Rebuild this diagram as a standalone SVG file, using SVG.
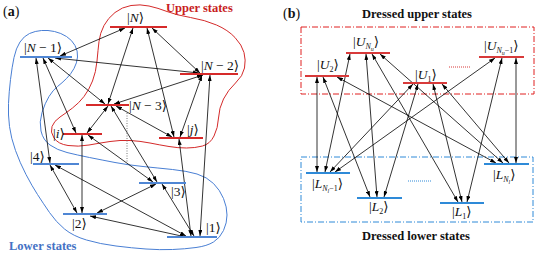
<svg xmlns="http://www.w3.org/2000/svg" width="539" height="254" viewBox="0 0 539 254">
<defs>
<marker id="ah" viewBox="0 0 6 4" refX="6" refY="2" markerWidth="6" markerHeight="4" markerUnits="userSpaceOnUse" orient="auto-start-reverse"><path d="M0,0 L6,2 L0,4 Z" fill="#000"/></marker>
</defs>
<style>
.ln{stroke:#000;stroke-width:0.8;fill:none;marker-start:url(#ah);marker-end:url(#ah)}
.lr{stroke:#d62a2a;stroke-width:2}
.lb{stroke:#4f86d4;stroke-width:2}
.ur{stroke:#d83a3a;stroke-width:2}
.ub{stroke:#2e8ad8;stroke-width:2}
.ket{font-family:"Liberation Serif","DejaVu Serif",serif;font-size:13.5px;fill:#111}
.it{font-style:italic}
.sb{font-size:8px}
.ss{font-size:6px}
.ttl{font-family:"Liberation Serif","DejaVu Serif",serif;font-weight:bold;font-size:12.5px}
.pl{font-family:"Liberation Serif","DejaVu Serif",serif;font-size:14px;fill:#111}
</style>
<rect width="539" height="254" fill="#fff"/>

<!-- panel labels -->
<text x="3" y="16" class="pl">(<tspan font-weight="bold">a</tspan>)</text>
<text x="283" y="18" class="pl">(<tspan font-weight="bold">b</tspan>)</text>
<text x="166" y="12" class="ttl" fill="#c81e1e">Upper states</text>
<text x="9" y="250" class="ttl" fill="#4472c4">Lower states</text>
<text x="362" y="18" class="ttl" fill="#111">Dressed upper states</text>
<text x="362" y="240" class="ttl" fill="#111">Dressed lower states</text>

<!-- contours -->
<g id="upper-region" fill="none" stroke="#d42a2a" stroke-width="1">
<path d="M99,41.5 Q100,33 104,25.5 Q108,18 115,12.5 Q122,7 131,5.5 Q140,4 149,6 Q158,8 167,11.5 Q176,15 190.5,17.5 Q205,20 216.5,25 Q228,30 235,37.5 Q242,45 244,52.5 Q246,60 244.5,68 Q243,76 235.5,83 Q228,90 223.5,99 Q219,108 218.5,118 Q218,128 214,136 Q210,144 202.5,146 Q195,148 186.5,148 Q178,148 169,146.5 Q160,145 150,143 Q140,141 130,140.5 Q120,140 110,141.5 Q100,143 89,145 Q78,147 68,145.5 Q58,144 54,138 Q50,132 52,126.5 Q54,121 60,117 Q66,113 72.5,108 Q79,103 84,96.5 Q89,90 92.5,81 Q96,72 97,61 Q98,50 99,41.5 Z"/>
</g>
<g id="lower-region" fill="none" stroke="#4a7fd4" stroke-width="1">
<path d="M57.5,86.5 Q53,90 49,96.5 Q45,103 42,112.5 Q39,122 41,131 Q43,140 50,145 Q57,150 67,152.5 Q77,155 89.5,157.5 Q102,160 115,162.5 Q128,165 143,166.5 Q158,168 172.5,169.5 Q187,171 197,174 Q207,177 213.5,183.5 Q220,190 223.5,198.5 Q227,207 227,215 Q227,223 223.5,230.5 Q220,238 213.5,242 Q207,246 196,247.5 Q185,249 172.5,249.5 Q160,250 146,249 Q132,248 116,246 Q100,244 86.5,240 Q73,236 64.5,229 Q56,222 49.5,212.5 Q43,203 37.5,194.5 Q32,186 26,174.5 Q20,163 15.5,150.5 Q11,138 9.5,126.5 Q8,115 8.5,103.5 Q9,92 10.5,79.5 Q12,67 14,57.5 Q16,48 20,42 Q24,36 29.5,33.5 Q35,31 41.5,30.5 Q48,30 54.5,31.5 Q61,33 66.5,36.5 Q72,40 75,45.5 Q78,51 77.5,57 Q77,63 74,68.5 Q71,74 66.5,78.5 Q62,83 57.5,86.5 Z"/>
</g>
<rect id="upper-box" x="301" y="27" width="233" height="67" fill="none" stroke="#e02020" stroke-width="1" stroke-dasharray="6 2 1 2"/>
<rect id="lower-box" x="301" y="157" width="232" height="65" fill="none" stroke="#2e8ad8" stroke-width="1" stroke-dasharray="6 2 1 2"/>

<!-- connectors -->
<g id="connectors">
<line class="ln" x1="125" y1="28" x2="60" y2="56"/>
<line class="ln" x1="55" y1="58" x2="199" y2="73"/>
<line class="ln" x1="152" y1="28" x2="200" y2="73"/>
<line class="ln" x1="114" y1="104" x2="203" y2="75"/>
<line class="ln" x1="133" y1="28" x2="108" y2="104"/>
<line class="ln" x1="36" y1="58" x2="50" y2="163"/>
<line class="ln" x1="43" y1="58" x2="76" y2="133"/>
<line class="ln" x1="48" y1="58" x2="105" y2="104"/>
<line class="ln" x1="108" y1="106" x2="87" y2="133"/>
<line class="ln" x1="111" y1="106" x2="157" y2="182"/>
<line class="ln" x1="116" y1="106" x2="172" y2="137"/>
<line class="ln" x1="147" y1="28" x2="174" y2="137"/>
<line class="ln" x1="202" y1="75" x2="180" y2="137"/>
<line class="ln" x1="210" y1="75" x2="200" y2="236"/>
<line class="ln" x1="179" y1="139" x2="191" y2="236"/>
<line class="ln" x1="88" y1="135" x2="153" y2="182"/>
<line class="ln" x1="82" y1="135" x2="82" y2="213"/>
<line class="ln" x1="50" y1="165" x2="77" y2="213"/>
<line class="ln" x1="55" y1="165" x2="186" y2="236"/>
<line class="ln" x1="156" y1="184" x2="97" y2="213"/>
<line class="ln" x1="162" y1="184" x2="194" y2="236"/>
<line class="ln" x1="90" y1="216" x2="186" y2="237"/>
<line x1="127" y1="113" x2="127" y2="162" stroke="#777" stroke-width="1" stroke-dasharray="1 1.5"/>

<line class="ln" x1="317" y1="77" x2="317" y2="172"/>
<line class="ln" x1="323" y1="77" x2="370" y2="197"/>
<line class="ln" x1="337" y1="77" x2="496" y2="163"/>
<line class="ln" x1="350" y1="54" x2="325" y2="172"/>
<line class="ln" x1="366" y1="54" x2="377" y2="197"/>
<line class="ln" x1="372" y1="54" x2="458" y2="202"/>
<line class="ln" x1="380" y1="54" x2="503" y2="163"/>
<line class="ln" x1="413" y1="84" x2="330" y2="172"/>
<line class="ln" x1="418" y1="84" x2="384" y2="197"/>
<line class="ln" x1="433" y1="84" x2="462" y2="202"/>
<line class="ln" x1="442" y1="84" x2="509" y2="163"/>
<line class="ln" x1="495" y1="58" x2="335" y2="172"/>
<line class="ln" x1="502" y1="58" x2="467" y2="202"/>
<line class="ln" x1="516" y1="58" x2="516" y2="163"/>
<line x1="449" y1="67" x2="470" y2="67" stroke="#d83a3a" stroke-width="1" stroke-dasharray="1 1"/>
<line x1="408" y1="181" x2="432" y2="181" stroke="#2e8ad8" stroke-width="1" stroke-dasharray="1 1"/>
</g>

<!-- panel (a) nodes -->
<g id="N"><line class="lr" x1="110" y1="27" x2="167" y2="27"/><text x="127" y="22" class="ket">|<tspan class="it">N</tspan>⟩</text></g>
<g id="N-1"><line class="lb" x1="20" y1="57" x2="72" y2="57"/><text x="24" y="52" class="ket">|<tspan class="it">N</tspan> − 1⟩</text></g>
<g id="N-2"><line class="lr" x1="180" y1="74" x2="238" y2="74"/><text x="201" y="70" class="ket">|<tspan class="it">N</tspan> − 2⟩</text></g>
<g id="N-3"><line class="lr" x1="86" y1="105" x2="129" y2="105"/><text x="129" y="110" class="ket">|<tspan class="it">N</tspan> − 3⟩</text></g>
<g id="i"><line class="lr" x1="63" y1="134" x2="102" y2="134"/><text x="53" y="138" class="ket">|<tspan class="it">i</tspan>⟩</text></g>
<g id="j"><line class="lr" x1="159" y1="138" x2="203" y2="138"/><text x="187" y="134" class="ket">|<tspan class="it">j</tspan>⟩</text></g>
<g id="s4"><line class="lb" x1="33" y1="164" x2="79" y2="164"/><text x="30" y="161" class="ket">|4⟩</text></g>
<g id="s3"><line class="lb" x1="139" y1="183" x2="186" y2="183"/><text x="171" y="196" class="ket">|3⟩</text></g>
<g id="s2"><line class="lb" x1="63" y1="214" x2="107" y2="214"/><text x="72" y="228" class="ket">|2⟩</text></g>
<g id="s1"><line class="lb" x1="167" y1="237" x2="217" y2="237"/><text x="206" y="232" class="ket">|1⟩</text></g>

<!-- panel (b) nodes -->
<g id="U2"><line class="ur" x1="305" y1="76" x2="349" y2="76"/><text x="317" y="69" class="ket">|<tspan class="it">U</tspan><tspan class="sb" dy="3">2</tspan><tspan dy="-3">⟩</tspan></text></g>
<g id="UNu"><line class="ur" x1="346" y1="53" x2="390" y2="53"/><text x="353" y="46" class="ket">|<tspan class="it">U</tspan><tspan class="sb it" dy="3">N</tspan><tspan class="ss it" dy="1.5">u</tspan><tspan dy="-4.5">⟩</tspan></text></g>
<g id="U1"><line class="ur" x1="403" y1="83" x2="447" y2="83"/><text x="415" y="79" class="ket">|<tspan class="it">U</tspan><tspan class="sb" dy="3">1</tspan><tspan dy="-3">⟩</tspan></text></g>
<g id="UNu-1"><line class="ur" x1="479" y1="57" x2="524" y2="57"/><text x="484" y="50" class="ket">|<tspan class="it">U</tspan><tspan class="sb it" dy="3">N</tspan><tspan class="ss it" dy="1.5">u</tspan><tspan class="sb" dy="-1.5">−1</tspan><tspan dy="-3">⟩</tspan></text></g>
<g id="LNl-1"><line class="ub" x1="306" y1="173" x2="350" y2="173"/><text x="312" y="188" class="ket">|<tspan class="it">L</tspan><tspan class="sb it" dy="3">N</tspan><tspan class="ss it" dy="1.5">l</tspan><tspan class="sb" dy="-1.5">−1</tspan><tspan dy="-3">⟩</tspan></text></g>
<g id="L2"><line class="ub" x1="357" y1="198" x2="402" y2="198"/><text x="369" y="211" class="ket">|<tspan class="it">L</tspan><tspan class="sb" dy="3">2</tspan><tspan dy="-3">⟩</tspan></text></g>
<g id="L1"><line class="ub" x1="440" y1="203" x2="484" y2="203"/><text x="452" y="216" class="ket">|<tspan class="it">L</tspan><tspan class="sb" dy="3">1</tspan><tspan dy="-3">⟩</tspan></text></g>
<g id="LNl"><line class="ub" x1="484" y1="164" x2="529" y2="164"/><text x="493" y="179" class="ket">|<tspan class="it">L</tspan><tspan class="sb it" dy="3">N</tspan><tspan class="ss it" dy="1.5">l</tspan><tspan dy="-4.5">⟩</tspan></text></g>
</svg>
